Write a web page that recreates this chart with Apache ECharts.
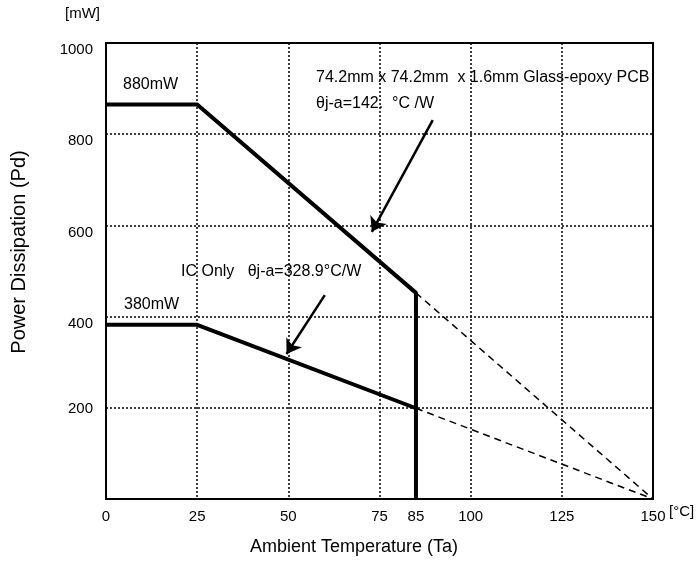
<!DOCTYPE html>
<html>
<head>
<meta charset="utf-8">
<script src="https://cdn.jsdelivr.net/npm/echarts@6/dist/echarts.min.js"></script>
<style>
  html, body { margin: 0; padding: 0; background: #fff; }
  #chart { width: 696px; height: 567px; }
</style>
</head>
<body>
<div id="chart"></div>
<script>
// 温度 (°C) / 功耗 (mW)
var xTicks = [0, 25, 50, 75, 85, 100, 125, 150];
var pcbLine = [[0, 865], [25, 865], [85, 452], [85, 0]];
var icLine = [[0, 382], [25, 382], [85, 199]];
var pcbDash = [[85, 452], [150, 0]];
var icDash = [[85, 199], [150, 0]];
var pcbArrow = [[89.6, 831], [72.9, 586]];
var icArrow = [[60.0, 447], [49.5, 318]];

var font = 'Liberation Sans, Arial, sans-serif';
var myChart = echarts.init(document.getElementById('chart'));

var option = {
    animation: false,
    grid: {
        left: 106, right: 43, top: 43, bottom: 68,
        show: true, borderColor: '#000', borderWidth: 2
    },
    xAxis: {
        type: 'value', min: 0, max: 150, interval: 25,
        axisLine: { show: true, lineStyle: { color: '#000', width: 2 } },
        axisTick: { show: false },
        axisLabel: {
            customValues: xTicks,
            color: '#000', fontFamily: font, fontSize: 15, margin: 10
        },
        splitLine: { show: true, lineStyle: { color: '#000', type: [2, 2], width: 1.5 } }
    },
    yAxis: {
        type: 'value', min: 0, max: 1000, interval: 200,
        axisLine: { show: true, lineStyle: { color: '#000', width: 2 } },
        axisTick: { show: false },
        axisLabel: {
            color: '#000', fontFamily: font, fontSize: 15, margin: 13,
            formatter: function (v) {
                if (v == 0) return '';
                if (v == 200) return '{b|' + v + '}';
                return '{a|' + v + '}';
            },
            rich: {
                a: { fontSize: 15, fontFamily: font, color: '#000', padding: [14, 0, 0, 0] },
                b: { fontSize: 15, fontFamily: font, color: '#000', padding: [3, 0, 0, 0] }
            }
        },
        splitLine: { show: true, lineStyle: { color: '#000', type: [2, 2], width: 1.5 } }
    },
    series: [
        {
            type: 'line', data: pcbLine, symbol: 'none',
            lineStyle: { color: '#000', width: 4 }
        },
        {
            type: 'line', data: icLine, symbol: 'none',
            lineStyle: { color: '#000', width: 4 }
        },
        {
            type: 'line', data: pcbDash, symbol: 'none',
            lineStyle: { color: '#000', width: 1.5, type: [7, 5] }
        },
        {
            type: 'line', data: icDash, symbol: 'none',
            lineStyle: { color: '#000', width: 1.5, type: [7, 5] }
        },
        {
            type: 'lines', coordinateSystem: 'cartesian2d',
            symbol: ['none', 'arrow'], symbolSize: 14,
            lineStyle: { color: '#000', width: 2.5, opacity: 1 },
            data: [{ coords: pcbArrow }, { coords: icArrow }]
        }
    ],
    graphic: [
        { type: 'text', left: 65, top: 6, style: { text: '[mW]', font: '15px ' + font, fill: '#000' } },
        { type: 'text', left: 669, top: 504, style: { text: '[°C]', font: '15px ' + font, fill: '#000' } },
        { type: 'text', left: 250, top: 538, style: { text: 'Ambient Temperature (Ta)', font: '18px ' + font, fill: '#000' } },
        {
            type: 'text', x: 9, y: 252, rotation: Math.PI / 2,
            style: { text: 'Power Dissipation (Pd)', font: '20px ' + font, fill: '#000', align: 'center', verticalAlign: 'top' }
        },
        { type: 'text', left: 123, top: 77, style: { text: '880mW', font: '16px ' + font, fill: '#000' } },
        { type: 'text', left: 124, top: 297, style: { text: '380mW', font: '16px ' + font, fill: '#000' } },
        { type: 'text', left: 316, top: 70, style: { text: '74.2mm x 74.2mm  x 1.6mm Glass-epoxy PCB', font: '16px ' + font, fill: '#000' } },
        { type: 'text', left: 316, top: 96, style: { text: 'θj-a=142.  °C /W', font: '16px ' + font, fill: '#000' } },
        { type: 'text', left: 181, top: 264, style: { text: 'IC Only   θj-a=328.9°C/W', font: '16px ' + font, fill: '#000' } }
    ]
};

myChart.setOption(option);
</script>
</body>
</html>
